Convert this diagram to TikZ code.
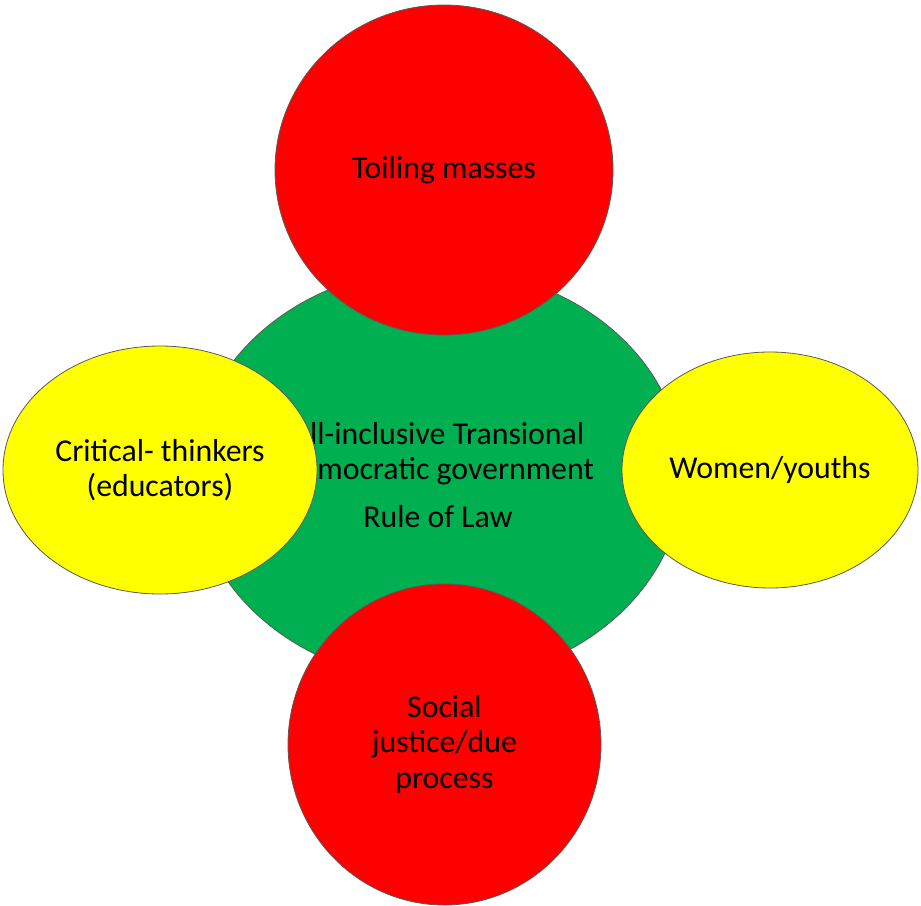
\documentclass[tikz,border=0pt]{standalone}
\usepackage{fontspec}
\setmainfont{Carlito}
\usetikzlibrary{shapes.geometric}
\definecolor{hubgreen}{HTML}{00B050}
\definecolor{massred}{HTML}{FF0000}
\definecolor{sideyellow}{HTML}{FFFF00}

\begin{document}
\begin{tikzpicture}[x=1pt,y=-1pt,
			blob/.style={ellipse,draw=black!65,line width=0.8pt,inner sep=0pt,align=center,font=\fontsize{31.8}{35.5}\selectfont},
			hub/.style={blob,fill=hubgreen,minimum width=490pt,minimum height=414pt},
			redball/.style={blob,fill=massred},
			yellowball/.style={blob,fill=sideyellow}
			]
			\useasboundingbox (0,0) rectangle (921,905);
			\node[hub] (gov) at (438,475) {All-inclusive Transional\\Democratic government\\[12pt]Rule of Law};
			\node[redball,minimum width=338pt,minimum height=330pt] (masses) at (444,170) {Toiling masses};
			\node[redball,minimum width=313pt,minimum height=321pt] (justice) at (444.5,744.5) {Social\\justice/due\\process};
			\node[yellowball,minimum width=314pt,minimum height=248pt] (thinkers) at (160,470) {Critical- thinkers\\(educators)};
			\node[yellowball,minimum width=296pt,minimum height=236pt] (youths) at (770,470) {Women/youths};
		\end{tikzpicture}
\end{document}
